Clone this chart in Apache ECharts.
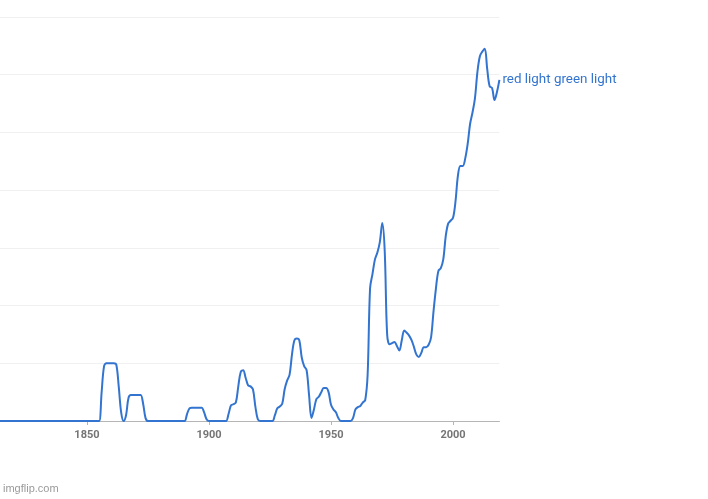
<!DOCTYPE html>
<html>
<head>
<meta charset="utf-8">
<script src="https://cdn.jsdelivr.net/npm/echarts@6/dist/echarts.min.js"></script>
<style>
html,body{margin:0;padding:0;background:#fff;}
#chart{width:708px;height:499px;}
</style>
</head>
<body>
<div id="chart"></div>
<script>
const seriesName = 'red light green light';
const startYear = 1800;
const values = [
  // 1800-1854
  0,0,0,0,0,0,0,0,0,0, 0,0,0,0,0,0,0,0,0,0, 0,0,0,0,0,0,0,0,0,0,
  0,0,0,0,0,0,0,0,0,0, 0,0,0,0,0,0,0,0,0,0, 0,0,0,0,0,
  // 1855-1899
  0,0.5,0.95,1.0,1.0,1.0,1.0,0.98,0.6,0.15,
  0,0.1,0.4,0.45,0.45,0.45,0.45,0.45,0.3,0.05,
  0,0,0,0,0,0,0,0,0,0,
  0,0,0,0,0,0,0.12,0.22,0.23,0.23,
  0.23,0.23,0.23,0.15,0.03,
  // 1900-1949
  0,0,0,0,0,0,0,0,0.12,0.27,
  0.29,0.32,0.6,0.85,0.88,0.75,0.62,0.6,0.55,0.25,
  0.03,0,0,0,0,0,0,0.1,0.22,0.25,
  0.3,0.55,0.7,0.8,1.15,1.4,1.43,1.4,1.1,0.95,
  0.88,0.45,0.05,0.2,0.38,0.42,0.5,0.57,0.57,0.5,
  // 1950-1999
  0.28,0.2,0.15,0.05,0,0,0,0,0,0.05,
  0.2,0.24,0.26,0.32,0.36,0.8,2.3,2.55,2.8,2.92,
  3.1,3.43,2.95,1.5,1.33,1.35,1.37,1.3,1.22,1.4,
  1.57,1.53,1.48,1.4,1.28,1.15,1.11,1.18,1.28,1.28,
  1.32,1.45,1.9,2.3,2.6,2.65,2.8,3.2,3.42,3.47,
  // 2000-2019
  3.52,3.8,4.25,4.42,4.42,4.55,4.8,5.15,5.35,5.6,
  6.05,6.32,6.4,6.45,6.1,5.8,5.77,5.56,5.7,5.91
];
const xTicks = [1850, 1900, 1950, 2000];

const data = values.map((v, i) => [startYear + i, v]);
const blue = '#3274cf';

const chart = echarts.init(document.getElementById('chart'));
chart.setOption({
  animation: false,
  grid: { left: 0, right: 208.6, top: 17, bottom: 78, containLabel: false },
  xAxis: {
    type: 'value',
    min: 1814.35,
    max: 2019,
    axisLine: { show: true, lineStyle: { color: '#b5b5b5', width: 1 } },
    axisTick: { show: true, length: 4, lineStyle: { color: '#b5b5b5' },
      customValues: xTicks },
    axisLabel: { color: '#757575', fontSize: 11, fontWeight: 'bold',
      fontFamily: 'Roboto, Arial, sans-serif', margin: 9,
      customValues: xTicks, formatter: v => String(v) },
    splitLine: { show: false }
  },
  yAxis: {
    type: 'value',
    min: 0,
    max: 7,
    interval: 1,
    axisLine: { show: false },
    axisTick: { show: false },
    axisLabel: { show: false },
    splitLine: { show: true, lineStyle: { color: '#f0f0f0', width: 1 } }
  },
  series: [{
    name: seriesName,
    type: 'line',
    data: data,
    smooth: 0.35,
    clip: true,
    showSymbol: false,
    lineStyle: { color: blue, width: 2 },
    itemStyle: { color: blue },
    endLabel: {
      show: true,
      formatter: seriesName,
      color: blue,
      fontSize: 13.4,
      fontFamily: 'Roboto, Arial, sans-serif',
      distance: 3
    }
  }],
  graphic: [{
    type: 'text',
    left: 3,
    top: 483,
    style: { text: 'imgflip.com', fill: '#9a9a9a', fontSize: 11, fontFamily: 'Arial, sans-serif' }
  }]
});
</script>
</body>
</html>
